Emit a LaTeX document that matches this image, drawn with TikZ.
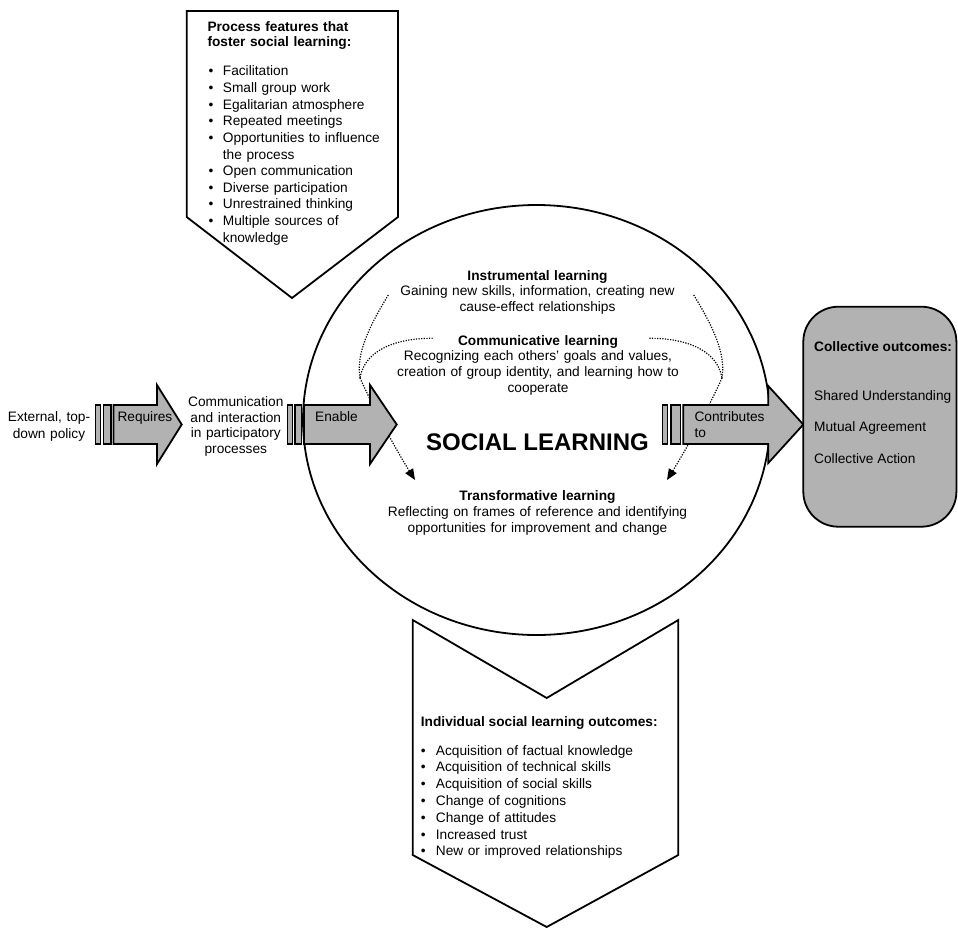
\documentclass[tikz,border=0pt]{standalone}
\usepackage{fontspec}
\setmainfont{Liberation Sans}
\usetikzlibrary{arrows.meta}
\newcommand\txtsize{\fontsize{13.7}{16.66}\selectfont}
\newcommand\circsize{\fontsize{13.7}{15.8}\selectfont}
\newcommand\bigsize{\fontsize{24}{28}\selectfont\bfseries}
\newcommand\blt[1]{\makebox[#1][l]{\textbullet}}

\begin{document}
\begin{tikzpicture}[x=1pt,y=-1pt,
  outline/.style={draw=black,line width=1.8pt,line join=miter},
  shaded/.style={outline,fill=black!30},
  stripe/.style={shaded,line width=1.2pt},
  paper/.style={outline,fill=white},
  dotline/.style={draw=black,line width=1.2pt,dash pattern=on 1.2pt off 1.4pt},
  tipped/.style={-{Triangle[length=11pt,width=9pt]}},
  lbl/.style={inner sep=0pt,font=\txtsize},
  ctext/.style={inner sep=0pt,font=\circsize,text width=330pt,align=center,anchor=base},
]
\useasboundingbox (0,0) rectangle (958,930);

% the social learning circle
\draw[outline] (536.5,420) ellipse [x radius=233.5pt, y radius=215pt];

% dotted links between the learning types (left side)
\coordinate (lm) at (360,378);
\coordinate (lt) at (415,480);
\draw[dotline] (388.3,295) .. controls (368,328) and (356,355) .. (lm);
\draw[dotline] (432.7,338.3) .. controls (400,338) and (365,348) .. (lm);
\draw[dotline,tipped] (lm) .. controls (370,400) and (390,440) .. (lt);

% dotted links (right side)
\coordinate (rm) at (722,378);
\coordinate (rt) at (667,480);
\draw[dotline] (693.7,295) .. controls (714,328) and (726,355) .. (rm);
\draw[dotline] (649.3,338.3) .. controls (682,338) and (717,348) .. (rm);
\draw[dotline,tipped] (rm) .. controls (712,400) and (692,440) .. (rt);

% striped block arrow: Requires
\draw[stripe] (95.7,405) rectangle (100.5,444);
\draw[stripe] (103.5,405) rectangle (111,444);
\draw[shaded] (113.5,405) -- (157,405) -- (157,385) -- (181.7,424.5) -- (157,464) -- (157,444) -- (113.5,444) -- cycle;

% striped block arrow: Enable
\draw[stripe] (287.3,405) rectangle (292.3,444);
\draw[stripe] (295,405) rectangle (301.7,444);
\draw[shaded] (304,405) -- (370,405) -- (370,385) -- (396.7,424.5) -- (370,464) -- (370,444) -- (304,444) -- cycle;

% striped block arrow: Contributes to
\draw[stripe] (662.7,405) rectangle (667.7,444);
\draw[stripe] (671,405) rectangle (680.7,444);
\draw[shaded] (683.3,405) -- (768.3,405) -- (768.3,386) -- (803.3,424.5) -- (768.3,463) -- (768.3,444) -- (683.3,444) -- cycle;

% collective outcomes box
\draw[shaded,rounded corners=35pt] (803.3,306.7) rectangle (956.4,526.7);

% process features pentagon
\draw[paper] (186.7,11) -- (398,11) -- (398,217) -- (292,298) -- (186.7,217) -- cycle;

% individual outcomes chevron
\draw[paper] (412.7,620) -- (546.7,698) -- (678.3,620) -- (678.3,855) -- (546.7,927) -- (412.7,855) -- cycle;

% texts: process features
\node[lbl,anchor=base west,text width=190pt,align=left,font=\fontsize{13.7}{15.7}\selectfont\bfseries]
  (pftitle) at (207.3,31) {Process features that\\foster social learning:};
\node[lbl,anchor=base west,text width=190pt,align=left] (pflist) at (208.3,75.7)
  {\blt{14.4pt}Facilitation\\
   \blt{14.4pt}Small group work\\
   \blt{14.4pt}Egalitarian atmosphere\\
   \blt{14.4pt}Repeated meetings\\
   \blt{14.4pt}Opportunities to influence\\
   \hspace*{14.4pt}the process\\
   \blt{14.4pt}Open communication\\
   \blt{14.4pt}Diverse participation\\
   \blt{14.4pt}Unrestrained thinking\\
   \blt{14.4pt}Multiple sources of\\
   \hspace*{14.4pt}knowledge};

% texts: left chain
\node[lbl,anchor=base,text width=100pt,align=center] (policy) at (49,421.7)
  {External, top-\\down policy};
\node[lbl,anchor=base west] (req) at (117.3,421.7) {Requires};
\node[lbl,anchor=base,text width=120pt,align=center,font=\fontsize{13.7}{15.5}\selectfont] (comm) at (235.8,406.7)
  {Communication\\and interaction\\in participatory\\processes};
\node[lbl,anchor=base west] (enable) at (315,421.7) {Enable};
\node[lbl,anchor=base west,text width=80pt,align=left,font=\fontsize{13.7}{16}\selectfont] (contrib) at (694.3,421.7)
  {Contributes\\to};

% texts: inside the circle
\node[ctext] (instr) at (537.5,280)
  {\textbf{Instrumental learning}\\Gaining new skills, information, creating new\\cause-effect relationships};
\node[ctext] (commun) at (538,345)
  {\textbf{Communicative learning}\\Recognizing each others’ goals and values,\\creation of group identity, and learning how to\\cooperate};
\node[inner sep=0pt,anchor=base,font=\bigsize] (social) at (537.5,450) {SOCIAL LEARNING};
\node[ctext] (transf) at (537.5,500.5)
  {\textbf{Transformative learning}\\Reflecting on frames of reference and identifying\\opportunities for improvement and change};

% texts: collective outcomes
\node[lbl,anchor=base west,font=\txtsize\bfseries] (colltitle) at (814,351.7) {Collective outcomes:};
\node[lbl,anchor=base west] (shared) at (814,400) {Shared Understanding};
\node[lbl,anchor=base west] (mutual) at (814,431.7) {Mutual Agreement};
\node[lbl,anchor=base west] (action) at (814,463) {Collective Action};

% texts: individual outcomes
\node[lbl,anchor=base west,font=\txtsize\bfseries] (indtitle) at (420.7,726.7) {Individual social learning outcomes:};
\node[lbl,anchor=base west,text width=250pt,align=left,font=\fontsize{13.7}{16.83}\selectfont] (indlist) at (420.6,755)
  {\blt{15.1pt}Acquisition of factual knowledge\\
   \blt{15.1pt}Acquisition of technical skills\\
   \blt{15.1pt}Acquisition of social skills\\
   \blt{15.1pt}Change of cognitions\\
   \blt{15.1pt}Change of attitudes\\
   \blt{15.1pt}Increased trust\\
   \blt{15.1pt}New or improved relationships};
\end{tikzpicture}
\end{document}
